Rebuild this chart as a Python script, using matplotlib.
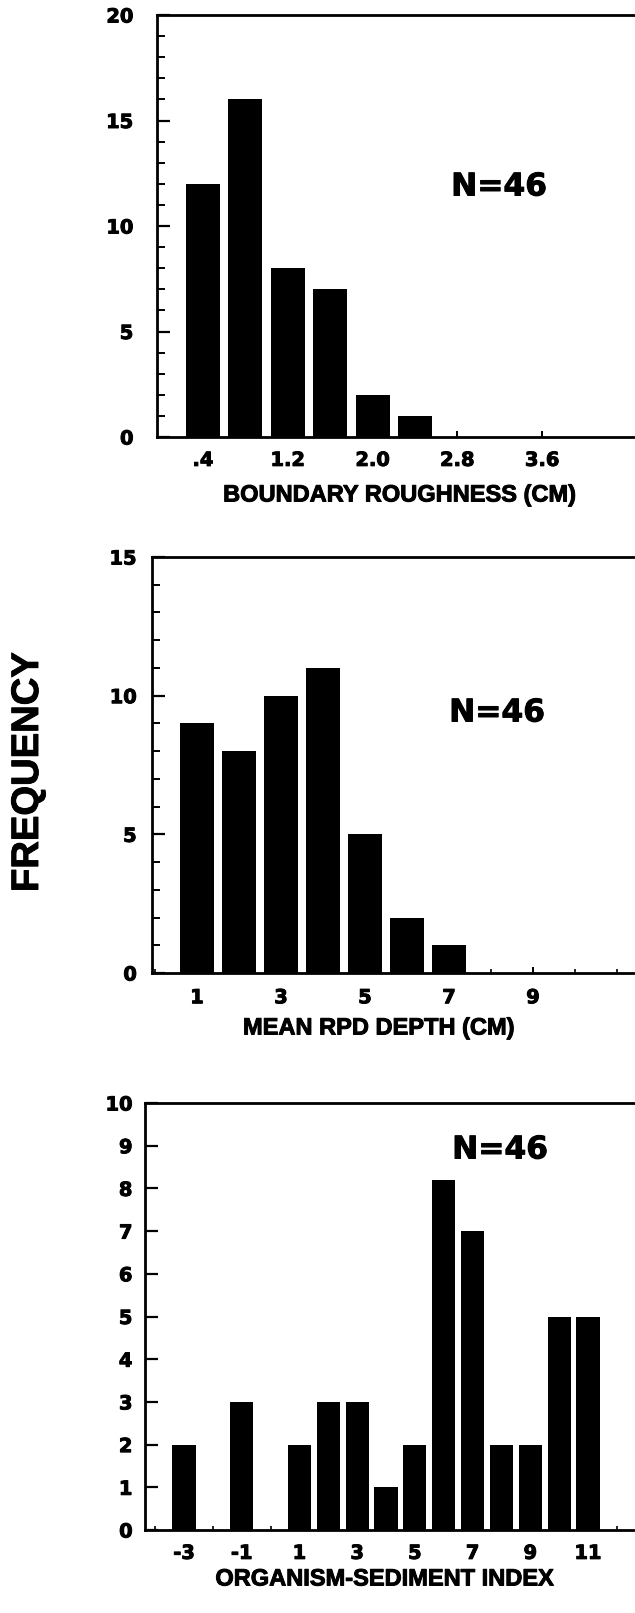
import matplotlib
matplotlib.use("Agg")
import matplotlib.pyplot as plt
import matplotlib.patheffects as pe
from matplotlib.ticker import MultipleLocator, FixedLocator

plt.rcParams['font.family'] = ['Liberation Sans', 'DejaVu Sans']
plt.rcParams['font.weight'] = 'bold'

# ---- data ----
rough_bins = [0.4, 0.8, 1.2, 1.6, 2.0, 2.4]
rough_freq = [12, 16, 8, 7, 2, 1]
rough_ticks = [0.4, 1.2, 2.0, 2.8, 3.6]
rough_ticklabels = [".4", "1.2", "2.0", "2.8", "3.6"]

rpd_bins = [1, 2, 3, 4, 5, 6, 7]
rpd_freq = [9, 8, 10, 11, 5, 2, 1]
rpd_ticks = [1, 3, 5, 7, 9]
rpd_ticklabels = ["1", "3", "5", "7", "9"]

osi_bins = [-3, -2, -1, 0, 1, 2, 3, 4, 5, 6, 7, 8, 9, 10, 11]
osi_freq = [2, 0, 3, 0, 2, 3, 3, 1, 2, 8.2, 7, 2, 2, 5, 5]
osi_ticks = [-3, -1, 1, 3, 5, 7, 9, 11]
osi_ticklabels = ["-3", "-1", "1", "3", "5", "7", "9", "11"]

n_label = "N=46"
xlabels = ["BOUNDARY ROUGHNESS (CM)", "MEAN RPD DEPTH (CM)", "ORGANISM-SEDIMENT INDEX"]
ylabel = "FREQUENCY"

# ---- layout ----
W, H = 635, 1613
fig = plt.figure(figsize=(W / 100, H / 100), dpi=100)
fig.patch.set_facecolor('white')

TICKFONT = ['DejaVu Sans']
HEAVY = [pe.withStroke(linewidth=0.7, foreground='black')]


def rect(left, top, bottom, right=700):
    return [left / W, 1 - bottom / H, (right - left) / W, (bottom - top) / H]


def style(ax, ypad, xpad):
    for s in ax.spines.values():
        s.set_linewidth(2.0)
        s.set_color('black')
    ax.tick_params(axis='y', which='major', direction='in', length=9, width=1.6,
                   labelsize=14, pad=ypad)
    ax.tick_params(axis='y', which='minor', direction='in', length=6, width=1.4)
    ax.tick_params(axis='x', which='major', direction='in', length=4, width=1.4,
                   labelsize=14, pad=xpad)
    ax.tick_params(axis='x', which='minor', direction='in', length=3, width=1.2)
    for lab in ax.get_xticklabels() + ax.get_yticklabels():
        lab.set_fontweight('bold')
        lab.set_family(TICKFONT)
        lab.set_path_effects(HEAVY)


# Panel 1
ax1 = fig.add_axes(rect(157, 15, 437))
ax1.bar(rough_bins, rough_freq, width=0.32, color='black')
ax1.set_xlim(0.4 - (203 - 157) / 106, 0.4 + (700 - 203) / 106)
ax1.set_ylim(0, 20)
ax1.yaxis.set_major_locator(MultipleLocator(5))
ax1.yaxis.set_minor_locator(MultipleLocator(1))
ax1.xaxis.set_major_locator(FixedLocator(rough_ticks))
ax1.set_xticklabels(rough_ticklabels)
style(ax1, ypad=17, xpad=10)

# Panel 2
ax2 = fig.add_axes(rect(152, 557, 973))
ax2.bar(rpd_bins, rpd_freq, width=0.8, color='black')
ax2.set_xlim(1 - (197 - 152) / 42, 1 + (700 - 197) / 42)
ax2.set_ylim(0, 15)
ax2.yaxis.set_major_locator(MultipleLocator(5))
ax2.yaxis.set_minor_locator(MultipleLocator(1))
ax2.xaxis.set_major_locator(FixedLocator(rpd_ticks))
ax2.xaxis.set_minor_locator(MultipleLocator(1))
ax2.set_xticklabels(rpd_ticklabels)
style(ax2, ypad=11, xpad=11)

# Panel 3
ax3 = fig.add_axes(rect(145, 1103, 1530))
ax3.bar(osi_bins, osi_freq, width=0.8, color='black')
ax3.set_xlim(-3 - 39 / 28.86, -3 + (700 - 184) / 28.86)
ax3.set_ylim(0, 10)
ax3.yaxis.set_major_locator(MultipleLocator(1))
ax3.xaxis.set_major_locator(FixedLocator(osi_ticks))
ax3.xaxis.set_minor_locator(MultipleLocator(1))
ax3.set_xticklabels(osi_ticklabels)
style(ax3, ypad=9, xpad=10)

# N labels
for (x, y) in [(499, 187), (497, 713), (500, 1150)]:
    fig.text(x / W, 1 - y / H, n_label, fontsize=22.5, fontweight='bold',
             family=TICKFONT, ha='center', va='center', path_effects=HEAVY)

# x labels
for (x, y), lab in zip([(400, 495), (379, 1028), (385, 1579)], xlabels):
    fig.text(x / W, 1 - y / H, lab, fontsize=17, fontweight='bold',
             ha='center', va='center', path_effects=HEAVY)

# y label
fig.text(28 / W, 1 - 772 / H, ylabel, fontsize=27.5, fontweight='bold',
         rotation=90, ha='center', va='center', path_effects=HEAVY)

fig.savefig("out.png", dpi=100, facecolor='white')
